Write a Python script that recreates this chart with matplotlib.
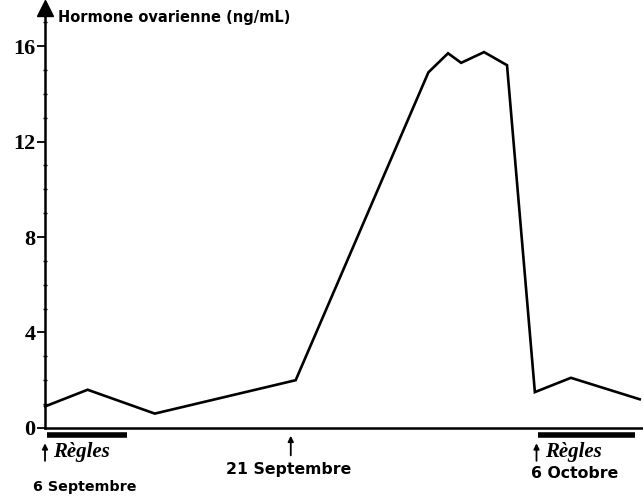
import matplotlib
matplotlib.use("Agg")
import matplotlib.pyplot as plt
from matplotlib.ticker import MultipleLocator

# Days counted from 6 September, hormone level in ng/mL
days = [0, 2.6, 6.7, 15.3, 23.4, 24.6, 25.4, 26.8, 28.2, 29.9, 32.1, 36.3]
hormone = [0.9, 1.6, 0.6, 2.0, 14.9, 15.7, 15.3, 15.75, 15.2, 1.5, 2.1, 1.2]

yticks = [0, 4, 8, 12, 16]
date_days = [0, 15, 30]
date_labels = ["6 Septembre", "21 Septembre", "6 Octobre"]
regles_days = [(0, 5), (30, 36)]

fig = plt.figure(figsize=(6.43, 4.97), dpi=100)
ax = fig.add_axes([0.07, 0.139, 0.93, 0.845])
ax.set_xlim(0, 36.5)
ax.set_ylim(0, 17.6)

ax.plot(days, hormone, color="black", lw=1.9, solid_joinstyle="miter", clip_on=False)

for s in ("top", "right"):
    ax.spines[s].set_visible(False)
ax.spines["left"].set_linewidth(1.8)
ax.spines["bottom"].set_linewidth(1.8)

ax.set_xticks([])
ax.set_yticks(yticks)
ax.set_yticklabels([str(v) for v in yticks], fontfamily="Liberation Serif",
                   fontsize=16, fontweight="bold")
ax.yaxis.set_minor_locator(MultipleLocator(1))
ax.tick_params(axis="y", which="major", length=6, width=1.3, pad=1)
ax.tick_params(axis="y", which="minor", length=2.5, width=1.0, direction="inout")

# arrow head on the vertical axis
ax.plot([0], [1.0], marker="^", markersize=11, color="black",
        transform=ax.transAxes, clip_on=False)
ax.text(0.022, 0.978, "Hormone ovarienne (ng/mL)", transform=ax.transAxes,
        fontsize=10.5, fontweight="bold", va="center", ha="left")

trans = ax.get_xaxis_transform()
# menstruation bars, arrows and labels
for d0, d1 in regles_days:
    ax.plot([d0 + 0.1, d1], [-0.017, -0.017], transform=trans, color="black",
            lw=4, solid_capstyle="butt", clip_on=False)
    ax.annotate("", xy=(d0, -0.03), xytext=(d0, -0.085), xycoords=trans,
                textcoords=trans,
                arrowprops=dict(arrowstyle="-|>", lw=1.3, color="black",
                                mutation_scale=8))
    ax.text(d0 + 0.5, -0.058, "Règles", transform=trans, fontfamily="Liberation Serif",
            fontsize=15, fontweight="bold", fontstyle="italic", va="center", ha="left")

# date markers
ax.annotate("", xy=(date_days[1], -0.012), xytext=(date_days[1], -0.072),
            xycoords=trans, textcoords=trans,
            arrowprops=dict(arrowstyle="-|>", lw=1.3, color="black", mutation_scale=8))
ax.text(date_days[0] - 0.75, -0.14, date_labels[0], transform=trans, fontsize=10.3,
        fontweight="bold", ha="left", va="center")
ax.text(date_days[1] - 0.1, -0.1, date_labels[1], transform=trans, fontsize=11.3,
        fontweight="bold", ha="center", va="center")
ax.text(date_days[2] - 0.35, -0.108, date_labels[2], transform=trans, fontsize=11.3,
        fontweight="bold", ha="left", va="center")

fig.savefig("out.png", dpi=100)
